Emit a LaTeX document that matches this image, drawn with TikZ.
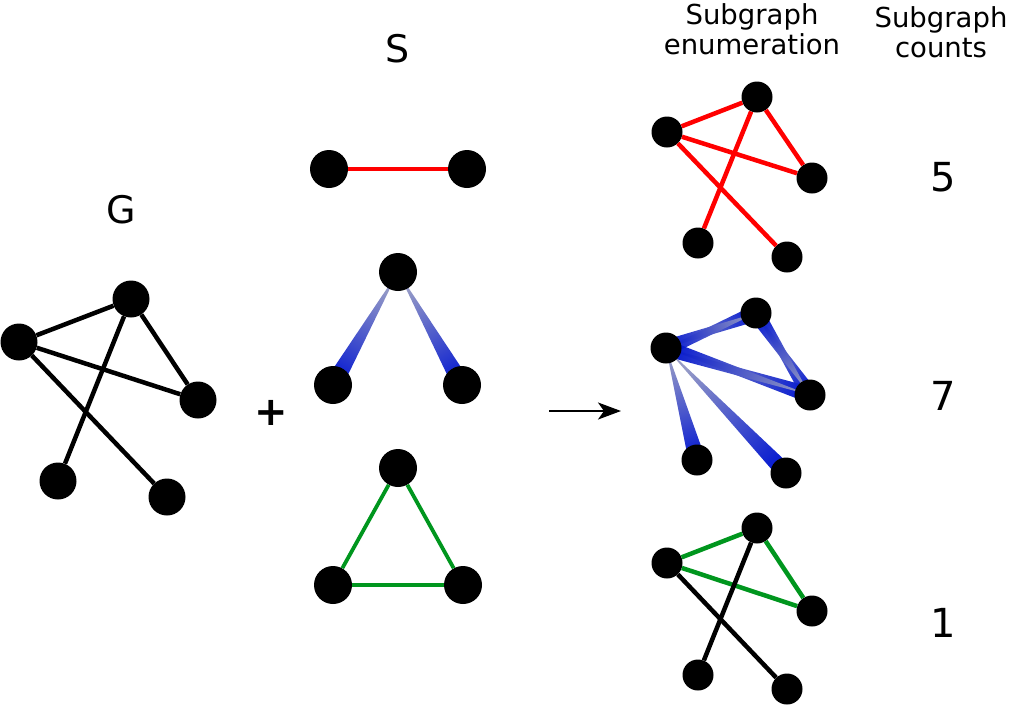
\documentclass[tikz,border=0pt]{standalone}
\usepackage{fontspec}
\setmainfont{DejaVu Sans}
\usetikzlibrary{calc,arrows.meta,backgrounds}
\definecolor{egred}{RGB}{255,0,0}
\definecolor{eggreen}{RGB}{0,150,30}
\definecolor{wedgetip}{RGB}{145,150,195}
\definecolor{wedgebase}{RGB}{0,20,205}
\tikzset{
  bignode/.style={circle, fill=black, inner sep=0pt, minimum size=38pt},
  gnode/.style={circle, fill=black, inner sep=0pt, minimum size=37pt},
  smallnode/.style={circle, fill=black, inner sep=0pt, minimum size=31pt},
  blackedge/.style={draw=black, line width=4.5pt},
  rededge/.style={draw=egred, line width=4.5pt},
  greenedge/.style={draw=eggreen, line width=4.5pt},
  motifred/.style={draw=egred, line width=3.8pt},
  motifgreen/.style={draw=eggreen, line width=3.8pt},
  wedgeband/.style={top color=wedgetip, bottom color=wedgebase, fill opacity=0.95},
  bigtitle/.style={font=\fontsize{38}{40}\selectfont, anchor=base},
  headlabel/.style={font=\fontsize{27.5}{30}\selectfont, align=center, anchor=base},
  countlabel/.style={font=\fontsize{40}{44}\selectfont, anchor=base},
}
\newcommand{\wedgeconn}[3]{%
  \pgfmathanglebetweenpoints{\pgfpointanchor{#1}{center}}{\pgfpointanchor{#2}{center}}%
  \edef\wedgeang{\pgfmathresult}%
  \pgfmathsetmacro\wedgeshade{\wedgeang+90}%
  \shade[wedgeband, shading angle=\wedgeshade] (#1.center) -- ($(#2.center)!#3!90:(#1.center)$) -- ($(#2.center)!#3!-90:(#1.center)$) -- cycle;%
}
\begin{document}
\begin{tikzpicture}[x=1pt,y=-1pt]
\useasboundingbox (0,0) rectangle (1009,705);

% titles
\node[bigtitle] (titleS) at (398,62) {S};
\node[bigtitle] (titleG) at (121,223) {G};
\node[headlabel] (headEnum) at (752,54) {Subgraph\\enumeration};
\node[headlabel] (headCount) at (941,57) {Subgraph\\counts};

% graph G
\node[gnode] (gA) at (19,342) {};
\node[gnode] (gB) at (131,299) {};
\node[gnode] (gC) at (198,400) {};
\node[gnode] (gD) at (58,481) {};
\node[gnode] (gE) at (167,497) {};
\draw[blackedge] (gA) -- (gB);
\draw[blackedge] (gA) -- (gC);
\draw[blackedge] (gB) -- (gC);
\draw[blackedge] (gB) -- (gD);
\draw[blackedge] (gA) -- (gE);

% plus
\node[font=\bfseries\fontsize{40}{44}\selectfont, anchor=base] (plus) at (271,425) {+};

% S motifs
\node[bignode] (s1a) at (329,169) {};
\node[bignode] (s1b) at (467,169) {};
\draw[motifred] (s1a) -- (s1b);

\node[bignode] (s2t) at (398,272) {};
\node[bignode] (s2l) at (333,385) {};
\node[bignode] (s2r) at (462,385) {};

\node[bignode] (s3t) at (398,468) {};
\node[bignode] (s3l) at (333,585) {};
\node[bignode] (s3r) at (463,585) {};
\draw[motifgreen] (s3t) -- (s3l);
\draw[motifgreen] (s3t) -- (s3r);
\draw[motifgreen] (s3l) -- (s3r);

% arrow
\coordinate (arrS) at (549,411);
\coordinate (arrE) at (621,411);
\draw[line width=2pt, -{Stealth[length=23pt,width=17pt,inset=6pt]}] (arrS) -- (arrE);

% enumeration red
\node[smallnode] (rA) at (667,132) {};
\node[smallnode] (rB) at (757,97) {};
\node[smallnode] (rC) at (812,178) {};
\node[smallnode] (rD) at (698,243) {};
\node[smallnode] (rE) at (787,257) {};
\draw[rededge] (rA) -- (rB);
\draw[rededge] (rA) -- (rC);
\draw[rededge] (rB) -- (rC);
\draw[rededge] (rB) -- (rD);
\draw[rededge] (rA) -- (rE);

% enumeration blue
\node[smallnode] (bA) at (666,348) {};
\node[smallnode] (bB) at (756,313) {};
\node[smallnode] (bC) at (810,395) {};
\node[smallnode] (bD) at (697,460) {};
\node[smallnode] (bE) at (786,473) {};

% enumeration green
\node[smallnode] (nA) at (667,563) {};
\node[smallnode] (nB) at (757,528) {};
\node[smallnode] (nC) at (812,611) {};
\node[smallnode] (nD) at (698,675) {};
\node[smallnode] (nE) at (787,689) {};
\draw[greenedge] (nA) -- (nB);
\draw[greenedge] (nA) -- (nC);
\draw[greenedge] (nB) -- (nC);
\draw[blackedge] (nB) -- (nD);
\draw[blackedge] (nA) -- (nE);

% wedges on background
\begin{scope}[on background layer]
  \wedgeconn{s2t}{s2l}{9pt}
  \wedgeconn{s2t}{s2r}{9pt}
  \wedgeconn{bA}{bB}{8pt}
  \wedgeconn{bB}{bA}{8pt}
  \wedgeconn{bA}{bC}{8pt}
  \wedgeconn{bC}{bA}{8pt}
  \wedgeconn{bB}{bC}{8pt}
  \wedgeconn{bC}{bB}{8pt}
  \wedgeconn{bA}{bD}{8.5pt}
  \wedgeconn{bA}{bE}{8.5pt}
\end{scope}

% counts
\node[countlabel] (c1) at (943,191) {5};
\node[countlabel] (c2) at (943,410) {7};
\node[countlabel] (c3) at (943,637) {1};
\end{tikzpicture}
\end{document}
